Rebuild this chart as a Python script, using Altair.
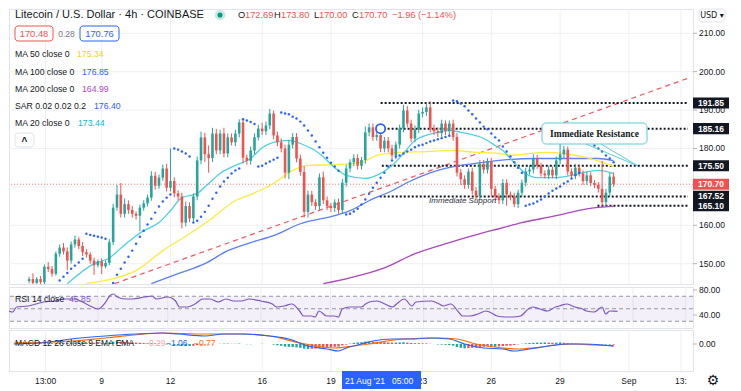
import altair as alt
import pandas as pd

FONT = "Liberation Sans"
INK = "#131722"
UP, DOWN = "#26a69a", "#ef5350"
W, H_MAIN, H_RSI, H_MACD = 684, 275, 41, 41
X_DOMAIN = [5.174, 34.58]
P_DOMAIN = [144.71, 216.33]
RSI_DOMAIN = [19.2, 84.8]
MACD_DOMAIN = [-13.5, 7.0]

# ---------------- data ----------------
FIRST_DAY = 5 + 20 / 24      # first visible 4h candle (Aug 5, 20:00)
STEP = 1 / 6                 # 4 hours
OPEN0 = 145.5

closes = [
    146.0, 145.0, 146.0, 145.2, 149.2, 148.6, 147.4, 152.6, 154.2, 153.2,
    150.8, 155.0, 156.3, 154.6, 153.0, 152.4, 150.8, 149.6, 150.6, 149.3,
    150.2, 155.6, 164.6, 168.0, 163.0, 165.5, 164.0, 163.0, 162.5, 164.6,
    165.7, 167.2, 172.9, 170.3, 172.4, 174.8, 169.8, 171.5, 168.3, 167.5,
    160.7, 165.0, 161.8, 167.5, 176.9, 182.9, 178.5, 177.5, 183.9, 179.5,
    183.9, 178.7, 182.9, 181.6, 183.9, 186.8, 177.6, 176.8, 179.5, 182.9,
    185.2, 184.5, 186.0, 189.1, 183.4, 181.6, 180.0, 173.7, 181.0, 183.0,
    177.4, 173.9, 163.5, 168.0, 166.0, 165.0, 172.5, 166.5, 165.0, 164.5,
    166.0, 164.0, 171.1, 174.8, 176.4, 177.5, 175.5, 177.0, 184.2, 185.5,
    183.0, 183.5, 180.0, 182.0, 180.0, 178.2, 181.0, 185.2, 189.9, 186.5,
    182.6, 185.0, 189.1, 189.5, 190.7, 185.2, 184.5, 184.0, 186.5, 184.5,
    186.5, 183.0, 173.7, 172.0, 170.5, 174.0, 169.0, 167.5, 176.0, 174.5,
    176.5, 169.5, 167.5, 166.5, 171.0, 168.0, 167.5, 165.5, 168.5, 171.1,
    174.0, 174.5, 177.5, 175.5, 173.5, 173.0, 174.5, 173.0, 176.9, 178.5,
    179.7, 174.0, 173.0, 175.0, 173.5, 171.5, 173.0, 171.0, 170.5, 169.5,
    166.0, 168.5, 172.69, 170.70]

wick_up = [
    0.6, 1.5, 0.5, 0.8, 0.6, 1.2, 0.8, 0.6, 0.8, 1.2,
    1.0, 0.8, 1.0, 0.6, 1.0, 0.8, 0.6, 0.8, 0.5, 0.8,
    0.6, 0.8, 1.0, 2.5, 3.0, 1.5, 1.0, 1.0, 0.6, 0.8,
    0.8, 0.8, 1.2, 1.0, 0.8, 1.0, 1.2, 8.5, 1.0, 0.8,
    1.0, 1.2, 1.0, 0.8, 1.0, 1.5, 1.2, 2.3, 1.5, 1.2,
    1.0, 1.5, 1.0, 1.0, 1.0, 0.8, 1.0, 0.8, 1.0, 1.0,
    1.0, 1.5, 1.0, 1.2, 0.8, 1.0, 1.0, 1.0, 1.2, 1.0,
    1.0, 1.0, 1.5, 1.0, 1.0, 0.8, 1.0, 1.5, 1.0, 0.8,
    0.8, 1.0, 1.0, 1.0, 0.8, 1.0, 1.0, 0.8, 1.5, 1.0,
    1.0, 1.0, 1.0, 1.0, 1.0, 1.0, 0.8, 1.0, 1.5, 1.2,
    1.0, 1.0, 1.0, 1.2, 1.3, 1.6, 1.0, 1.0, 1.0, 0.8,
    0.8, 1.0, 1.0, 1.0, 1.0, 0.8, 1.0, 1.0, 1.0, 1.0,
    1.0, 1.0, 0.8, 0.8, 1.0, 1.0, 0.8, 1.0, 0.8, 0.8,
    1.0, 1.2, 1.0, 0.8, 0.8, 0.8, 1.0, 0.8, 1.0, 3.3,
    1.0, 0.8, 0.8, 1.0, 0.8, 0.8, 1.0, 0.8, 0.8, 0.8,
    7.3, 1.0, 1.0, 1.11]

wick_dn = [
    0.6, 0.6, 0.5, 0.8, 0.5, 0.8, 0.8, 0.5, 0.8, 0.8,
    2.5, 0.8, 0.8, 0.8, 1.0, 0.8, 0.8, 2.5, 0.6, 2.0,
    0.5, 0.6, 0.8, 0.8, 1.0, 1.0, 1.0, 1.0, 1.0, 4.0,
    0.8, 0.8, 0.8, 1.0, 0.8, 0.8, 1.0, 1.0, 1.0, 1.0,
    1.5, 1.0, 1.0, 1.0, 1.0, 1.0, 2.0, 3.8, 1.0, 1.0,
    1.0, 1.0, 1.0, 0.8, 1.0, 1.0, 1.5, 1.0, 1.0, 1.0,
    0.8, 1.0, 1.0, 1.0, 1.0, 1.0, 1.0, 1.5, 1.7, 1.0,
    1.0, 1.0, 1.5, 1.5, 1.0, 1.0, 1.0, 1.0, 1.0, 1.0,
    1.0, 1.0, 1.0, 1.0, 1.0, 1.0, 1.0, 1.0, 1.0, 1.0,
    1.0, 1.0, 1.0, 1.0, 1.0, 1.0, 1.0, 1.0, 1.0, 1.0,
    1.0, 1.0, 1.0, 1.0, 1.0, 1.0, 1.0, 1.0, 1.0, 1.0,
    1.0, 1.0, 1.0, 1.5, 1.0, 1.0, 1.0, 1.0, 1.0, 1.0,
    1.0, 2.0, 1.0, 1.0, 1.0, 2.9, 1.0, 0.8, 1.0, 1.0,
    1.0, 0.8, 1.0, 0.8, 0.8, 0.8, 1.0, 0.8, 1.0, 1.0,
    1.0, 1.0, 0.8, 1.0, 0.8, 1.0, 1.0, 0.8, 0.8, 1.0,
    0.9, 1.0, 1.0, 0.7]

ma20_idx = [10, 17, 21, 24, 27, 30, 34, 37, 40, 44, 47, 50, 54, 58, 61, 64, 68, 71, 76, 80,
            83, 88, 91, 95, 98, 101, 107, 110, 113, 119, 122, 124, 127, 130, 133, 138, 142, 145, 149, 153]
ma20_val = [144.8, 150.0, 151.5, 154.0, 156.5, 158.6, 160.7, 163.8, 167.2, 168.3,
            170.9, 173.5, 175.6, 177.4, 180.2, 181.6, 182.1, 181.3, 178.7, 175.0,
            173.0, 172.2, 173.0, 175.6, 178.7, 182.1, 184.2, 184.7, 184.2, 182.6,
            180.8, 179.5, 176.3, 173.5, 172.4, 172.4, 173.0, 173.7, 174.3, 173.44]
ma50_idx = [15, 22, 28, 35, 42, 47, 54, 58, 64, 69, 73, 80, 87, 91, 97, 104, 110, 117, 123, 126,
            131, 135, 140, 146, 153]
ma50_val = [144.8, 146.1, 148.2, 153.4, 157.8, 161.2, 166.4, 168.0, 170.9, 174.3,
            175.6, 175.8, 176.4, 178.2, 179.0, 179.2, 179.5, 179.0, 178.7, 178.2,
            178.7, 179.0, 178.7, 177.6, 175.34]
ma100_idx = [32, 39, 46, 52, 58, 64, 71, 80, 84, 89, 95, 100, 107, 113, 119, 123, 133, 142, 149, 153]
ma100_val = [144.8, 147.4, 150.0, 153.4, 155.5, 157.3, 160.4, 162.5, 163.8, 166.4,
             169.0, 171.6, 174.3, 175.6, 176.4, 176.9, 177.4, 177.4, 177.4, 176.85]
ma200_idx = [77, 84, 93, 101, 110, 119, 123, 129, 138, 146, 153]
ma200_val = [144.8, 146.3, 148.9, 152.6, 155.5, 158.1, 159.1, 160.7, 162.5, 164.3, 164.99]

sar_segments = [
    (8, [145.6, 146.6, 147.6, 148.7, 149.5, 150.3, 151.3]),
    (15, [157.8, 157.5, 157.3, 157.0, 156.8, 156.5]),
    (22, [145.0, 147.1, 148.7, 150.3, 151.8, 153.4, 155.2, 157.0, 158.6, 160.2, 161.7, 163.3,
          164.9, 166.2, 167.2, 168.0]),
    (38, [180.0, 179.7, 179.2, 178.7, 177.9]),
    (43, [160.7, 161.2, 162.2, 163.5, 165.1, 166.9, 168.5, 170.1, 171.4, 172.4, 173.5, 174.3, 174.8]),
    (56, [187.6, 187.3, 186.9, 186.4]),
    (60, [175.3, 175.5, 176.1, 176.6, 177.1, 177.6]),
    (66, [189.4, 189.1, 188.9, 188.3, 187.8, 187.0, 186.0, 184.7, 183.4, 181.8, 180.3, 178.9,
          177.6, 176.3, 175.3, 174.2]),
    (83, [162.8, 163.0, 163.6, 164.3, 165.4, 166.7, 168.2, 169.8, 171.1, 172.4, 173.7, 175.3,
          176.9, 177.9, 178.2, 178.7, 179.2, 179.7, 180.3, 180.8, 181.0, 181.4, 181.8, 182.1,
          182.4, 182.7, 183.0, 183.3]),
    (111, [192.5, 192.3, 191.7, 191.0, 189.9, 188.9, 187.8, 186.8, 185.7, 185.0, 183.9, 182.9,
           182.1, 180.5, 179.2, 177.9, 176.4, 175.0, 173.7]),
    (130, [165.1, 165.4, 165.7, 166.2, 166.7, 167.5, 168.3, 169.0, 169.6, 170.1, 170.9, 171.4,
           172.2, 173.0, 173.7]),
    (145, [182.6, 182.1, 181.5, 180.8, 180.0, 179.2, 178.2, 177.4, 176.4]),
]

trend_day = [9.56, 34.58]
trend_price = [144.8, 198.3]

level_price = [191.85, 185.16, 175.50, 167.52, 165.10]
level_start = [21.17, 21.30, 21.22, 21.13, 30.63]

tag_price_black = [191.85, 185.16, 175.50, 167.52, 165.10]
tag_price_red = [170.70]
marker_day, marker_price = [21.167], [185.16]

price_grid = [150, 160, 170, 180, 190, 200, 210]
price_labels = [150, 160, 180, 190, 200, 210]   # 170.00 sits under the red 170.70 tag
rsi_ticks = [40, 80]
macd_ticks = [0]

rsi_idx = [-4, -3, -2, 1, 3, 5, 8, 10, 13, 15, 17, 19, 21, 22, 23, 24, 26, 28, 31, 33,
           34, 37, 39, 40, 42, 44, 46, 48, 50, 52, 54, 56, 58, 61, 64, 65, 67, 69, 71, 72,
           74, 75, 76, 78, 80, 81, 82, 84, 87, 88, 89, 91, 93, 95, 96, 98, 100, 101, 105, 107,
           108, 110, 112, 113, 115, 117, 119, 120, 122, 124, 126, 128, 130, 131, 133, 135, 137, 138, 140, 142,
           144, 145, 147, 149, 150, 151, 153]
rsi_val = [46.4, 44.8, 52.8, 54.4, 57.6, 60.8, 62.4, 65.6, 65.6, 60.8,
           54.4, 49.6, 60.8, 70.4, 73.6, 68.8, 65.6, 65.6, 68.8, 70.4,
           65.6, 68.8, 62.4, 52.8, 52.8, 57.6, 65.6, 65.6, 60.8, 65.6,
           62.4, 62.4, 65.6, 62.4, 57.6, 52.8, 54.4, 57.6, 46.4, 38.4,
           38.4, 36.8, 46.4, 38.4, 38.4, 36.8, 49.6, 52.8, 52.8, 57.6,
           60.8, 62.4, 57.6, 52.8, 57.6, 65.6, 54.4, 60.8, 62.4, 57.6,
           54.4, 57.6, 44.8, 38.4, 38.4, 41.6, 46.4, 44.8, 38.4, 36.8,
           36.8, 38.4, 49.6, 52.8, 49.6, 46.4, 52.8, 54.4, 57.6, 52.8,
           49.6, 46.4, 44.8, 52.8, 41.6, 46.4, 45.85]
rsi_levels = [30, 50, 70]

macd_idx = [-4, 3, 11, 20, 28, 35, 39, 46, 51, 56, 63, 68, 73, 78, 81, 83, 87, 90, 95, 100,
            105, 110, 114, 119, 124, 127, 131, 136, 141, 145, 150, 153]
macd_val = [0, 0.5, 2.5, 4, 5, 5.5, 5, 4, 5, 5, 4, 2.5, -1, -2.5, -3.5, -2, 0, 1.5, 2.5, 2.5,
            3, 2.5, 0, -2, -2.5, -3.5, -2.5, -1, 0, 0, -0.5, -1.06]
signal_idx = [-4, 11, 20, 35, 46, 56, 63, 71, 80, 85, 89, 98, 107, 112, 117, 124, 128, 132, 138, 143,
              148, 153]
signal_val = [0.5, 1.5, 3, 5.5, 5, 5, 4, 0.5, -2, -1, 0, 2.5, 3, 2.5, 0, -2, -2.5, -2, -0.5, 0,
              -0.5, -0.77]
hist = [
    0.2, 0.2, 0.3, 0.3, 0.3, 0.4, 0.4, 0.5, 0.5, 0.6,
    0.6, 0.7, 0.7, 0.8, 0.8, 0.8, 0.7, 0.6, 0.5, 0.4,
    0.5, 0.8, 1.2, 1.4, 1.2, 1.0, 0.9, 0.8, 0.7, 0.6,
    0.5, 0.4, 0.4, 0.3, 0.2, 0.0, -0.2, -0.3, -0.5, -0.7,
    -0.9, -1.0, -1.0, -0.9, -0.6, -0.4, -0.3, -0.2, -0.1, 0.0,
    0.1, 0.2, 0.2, 0.1, 0.1, 0.2, 0.0, -0.1, -0.1, 0.0,
    0.0, 0.1, 0.0, 0.0, -0.3, -0.6, -0.9, -1.3, -1.4, -1.5,
    -1.7, -1.9, -2.3, -2.5, -2.4, -2.3, -2.0, -1.9, -1.7, -1.5,
    -1.4, -1.3, -0.7, -0.3, 0.2, 0.6, 0.8, 0.9, 1.2, 1.3,
    1.2, 1.1, 1.0, 0.9, 0.8, 0.7, 0.7, 0.8, 0.9, 0.7,
    0.5, 0.4, 0.4, 0.3, 0.3, 0.1, 0.0, -0.2, -0.3, -0.4,
    -0.6, -0.8, -1.5, -1.9, -2.2, -2.0, -1.9, -1.8, -1.5, -1.4,
    -1.2, -1.3, -1.4, -1.2, -1.0, -0.9, -0.8, -0.5, -0.2, 0.1,
    0.3, 0.5, 0.6, 0.7, 0.7, 0.8, 0.7, 0.6, 0.7, 0.8,
    0.6, 0.4, 0.2, 0.1, 0.0, -0.1, -0.1, -0.2, -0.2, -0.2,
    -0.3, -0.3, -0.3, -0.29]

tick_days = [6.55, 9, 12, 16, 19, 23, 26, 29, 32, 34.27]
tick_labels = ["13:00", "9", "12", "16", "19", "23", "26", "29", "Sep", "13:"]

# ---------------- tables ----------------
def to_day(i):
    return FIRST_DAY + i * STEP

opens = [OPEN0] + closes[:-1]
candles = pd.DataFrame([
    dict(day=to_day(i), open=o, close=c, high=max(o, c) + wu, low=min(o, c) - wd,
         dir="up" if c >= o else "down")
    for i, (o, c, wu, wd) in enumerate(zip(opens, closes, wick_up, wick_dn))
])

def series(idx, vals):
    return pd.DataFrame({"day": [to_day(i) for i in idx], "v": vals})

sar_rows = []
for start, vals in sar_segments:
    for k, v in enumerate(vals):
        sar_rows.append({"day": to_day(start + k), "v": v})
sar = pd.DataFrame(sar_rows)

hist_rows = []
for i, h in enumerate(hist):
    prev = hist[i - 1] if i else 0
    if h >= 0:
        cat = "pu" if h >= prev else "pd"
    else:
        cat = "nd" if h <= prev else "nu"
    hist_rows.append({"day": to_day(i), "h": h, "zero": 0, "cat": cat})
hist_df = pd.DataFrame(hist_rows)

ONE = pd.DataFrame({"k": [0]})

# ---------------- helpers ----------------
xs = alt.Scale(domain=X_DOMAIN, nice=False, zero=False)
ys = alt.Scale(domain=P_DOMAIN, nice=False, zero=False)
rs = alt.Scale(domain=RSI_DOMAIN, nice=False, zero=False)
ms = alt.Scale(domain=MACD_DOMAIN, nice=False, zero=False)

def X(f="day"):
    return alt.X(f"{f}:Q", scale=xs, axis=None)

def Y(f, s):
    return alt.Y(f"{f}:Q", scale=s, axis=None)

def txt(t, x, y, color=INK, size=8.7, weight="normal", align="left", font=FONT, style="normal"):
    return alt.Chart(ONE).mark_text(text=t, align=align, baseline="middle", fontSize=size,
                                    fontWeight=weight, font=font, fontStyle=style, color=color
                                    ).encode(x=alt.value(x), y=alt.value(y))

def box(x1, y1, x2, y2, fill="white", stroke=None, radius=0, sw=1):
    kw = dict(fill=fill, cornerRadius=radius)
    if stroke:
        kw.update(stroke=stroke, strokeWidth=sw)
    return alt.Chart(ONE).mark_rect(**kw).encode(
        x=alt.value(x1), x2=alt.value(x2), y=alt.value(y1), y2=alt.value(y2))

def seg(x1, y1, x2, y2, color, sw=1):
    return alt.Chart(ONE).mark_rule(color=color, strokeWidth=sw).encode(
        x=alt.value(x1), x2=alt.value(x2), y=alt.value(y1), y2=alt.value(y2))

def vgrid():
    return alt.Chart(pd.DataFrame({"day": tick_days})).mark_rule(
        color="#eef0f4", strokeWidth=1, clip=True).encode(x=X())

def line(df, color, s, width=1.3, dash=None):
    kw = dict(color=color, strokeWidth=width, clip=True, interpolate="monotone")
    if dash:
        kw["strokeDash"] = dash
    return alt.Chart(df).mark_line(**kw).encode(x=X(), y=Y("v", s))

def right_axis(labels, s, grid_values=None):
    out = []
    if grid_values:
        out.append(alt.Chart(pd.DataFrame({"v": grid_values})).mark_rule(
            color="#eef0f4", strokeWidth=1).encode(y=Y("v", s)))
    df = pd.DataFrame({"v": labels})
    out.append(alt.Chart(df).mark_rule(color="#b2b5be", strokeWidth=1).encode(
        y=Y("v", s), x=alt.value(W), x2=alt.value(W + 4)))
    out.append(alt.Chart(df).mark_text(align="left", baseline="middle", fontSize=8.5, font=FONT,
                                       color=INK).encode(
        y=Y("v", s), x=alt.value(W + 6), text=alt.Text("v:Q", format=".2f")))
    return out

cscale = alt.Scale(domain=["up", "down"], range=[UP, DOWN])
TAG = "M-1,-0.31L1,-0.31L1,0.31L-1,0.31Z"

# ---------------- main panel ----------------
main_layers = [vgrid()] + right_axis(price_labels, ys, grid_values=price_grid) + [
    alt.Chart(pd.DataFrame({"p": [170.70]})).mark_rule(
        color=DOWN, strokeDash=[1, 2], strokeWidth=1, opacity=0.8).encode(y=Y("p", ys)),
    alt.Chart(pd.DataFrame({"day": trend_day, "v": trend_price})).mark_line(
        color="#f7525f", strokeDash=[5, 4], strokeWidth=1.2, clip=True).encode(x=X(), y=Y("v", ys)),
    alt.Chart(pd.DataFrame({"start": level_start, "end": [X_DOMAIN[1]] * len(level_start),
                            "p": level_price})).mark_rule(
        color=INK, strokeDash=[2, 2], strokeWidth=2).encode(
        x=X("start"), x2="end", y=Y("p", ys)),
    line(series(ma200_idx, ma200_val), "#ab47bc", ys),
    line(series(ma100_idx, ma100_val), "#5b7ff5", ys),
    line(series(ma50_idx, ma50_val), "#ffeb3b", ys),
    line(series(ma20_idx, ma20_val), "#4dd0e1", ys),
    alt.Chart(candles).mark_rule(strokeWidth=1, clip=True).encode(
        x=X(), y=Y("low", ys), y2="high", color=alt.Color("dir:N", scale=cscale, legend=None)),
    alt.Chart(candles).mark_bar(size=2.6, clip=True).encode(
        x=X(), y=Y("open", ys), y2="close", color=alt.Color("dir:N", scale=cscale, legend=None)),
    alt.Chart(sar).mark_circle(size=6, color="#2962ff", opacity=1, clip=True).encode(
        x=X(), y=Y("v", ys)),
    # callout
    seg(577, 135, 629, 157, "#5ccbd6"),
    seg(592, 135, 629, 157, "#5ccbd6"),
    box(533, 114, 638, 135, fill="white", stroke="#5ccbd6", radius=4),
    txt("Immediate Resistance", 585.5, 124.5, size=9.5, weight="bold", align="center",
        font="Liberation Serif"),
    txt("Immediate Support", 420, 192, color="#2a2e39", size=8, style="italic"),
    alt.Chart(pd.DataFrame({"day": marker_day, "v": marker_price})).mark_point(
        shape="circle", size=85, fill="white", stroke="#2962ff", strokeWidth=1.8, opacity=1).encode(
        x=X(), y=Y("v", ys)),
    # header
    txt("Litecoin / U.S. Dollar · 4h · COINBASE", 6, 6, size=11),
    alt.Chart(ONE).mark_circle(size=120, color="#cdebe6", opacity=1).encode(
        x=alt.value(211), y=alt.value(6)),
    alt.Chart(ONE).mark_circle(size=26, color="#089981", opacity=1).encode(
        x=alt.value(211), y=alt.value(6)),
    txt("O", 229, 6, size=9.3), txt("172.69", 236, 6, color=DOWN, size=9.3),
    txt("H", 265, 6, size=9.3), txt("173.80", 272, 6, color=DOWN, size=9.3),
    txt("L", 305, 6, size=9.3), txt("170.00", 310, 6, color=DOWN, size=9.3),
    txt("C", 343, 6, size=9.3), txt("170.70", 350, 6, color=DOWN, size=9.3),
    txt("−1.96", 383, 6, color=DOWN, size=9.3), txt("(−1.14%)", 409, 6, color=DOWN, size=9.3),
    box(6, 17, 44, 32, fill="white", stroke=DOWN, radius=3),
    txt("170.48", 25, 24.5, color=DOWN, size=9.3, align="center"),
    txt("0.28", 57.5, 24.5, color="#787b86", size=8.5, align="center"),
    box(71, 17, 110, 32, fill="white", stroke="#2962ff", radius=3),
    txt("170.76", 90.5, 24.5, color="#2962ff", size=9.3, align="center"),
    txt("MA 50 close 0", 6, 45), txt("175.34", 68, 45, color="#f2d21b"),
    txt("MA 100 close 0", 6, 63), txt("176.85", 73, 63, color="#2962ff"),
    txt("MA 200 close 0", 6, 80), txt("164.99", 73, 80, color="#ab47bc"),
    txt("SAR 0.02 0.02 0.2", 6, 97), txt("176.40", 85, 97, color="#2962ff"),
    txt("MA 20 close 0", 6, 114), txt("173.44", 69, 114, color="#00bcd4"),
    box(6, 124, 25, 138, fill="white", stroke="#e0e3eb", radius=3),
    txt("^", 15.5, 132.5, size=10, weight="bold", align="center"),
    # price tags on the axis
    alt.Chart(pd.DataFrame({"p": tag_price_black})).mark_point(
        shape=TAG, size=1296, filled=True, color=INK, opacity=1).encode(
        x=alt.value(702), y=Y("p", ys)),
    alt.Chart(pd.DataFrame({"p": tag_price_red})).mark_point(
        shape=TAG, size=1296, filled=True, color="#f0514f", opacity=1).encode(
        x=alt.value(702), y=Y("p", ys)),
    alt.Chart(pd.DataFrame({"p": tag_price_black + tag_price_red})).mark_text(
        color="white", fontSize=8.5, fontWeight="bold", font=FONT, align="center",
        baseline="middle").encode(
        x=alt.value(702), y=Y("p", ys), text=alt.Text("p:Q", format=".2f")),
    box(690, 0, 716, 13, fill="white", stroke="#e0e3eb", radius=3),
    txt("USD ▾", 703, 6.5, size=8, align="center", font="DejaVu Sans"),
]
main = alt.layer(*main_layers).properties(width=W, height=H_MAIN)

# ---------------- RSI panel ----------------
rsi_layers = [
    vgrid(),
    alt.Chart(pd.DataFrame({"lo": [30], "hi": [70]})).mark_rect(
        color="#7e57c2", opacity=0.09).encode(
        y=Y("lo", rs), y2="hi", x=alt.value(0), x2=alt.value(W)),
    alt.Chart(pd.DataFrame({"r": rsi_levels})).mark_rule(
        color="#9598a1", strokeDash=[4, 3], strokeWidth=1).encode(y=Y("r", rs)),
] + right_axis(rsi_ticks, rs) + [
    line(series(rsi_idx, rsi_val), "#7e57c2", rs, width=1.2),
    txt("RSI 14 close", 6, 12), txt("45.85", 60, 12, color="#7e57c2"),
]
rsi = alt.layer(*rsi_layers).properties(width=W, height=H_RSI)

# ---------------- MACD panel ----------------
hscale = alt.Scale(domain=["pu", "pd", "nd", "nu"], range=["#26a69a", "#b2dfdb", "#ff5252", "#ffcdd2"])
macd_layers = [vgrid()] + right_axis(macd_ticks, ms) + [
    alt.Chart(hist_df).mark_bar(size=2.4, clip=True).encode(
        x=X(), y=Y("h", ms), y2="zero",
        color=alt.Color("cat:N", scale=hscale, legend=None)),
    line(series(signal_idx, signal_val), "#ff6d00", ms, width=1.2),
    line(series(macd_idx, macd_val), "#2962ff", ms, width=1.2),
    txt("MACD 12 26 close 9 EMA EMA", 6, 13, size=8.5),
    txt("−0.29", 135, 13, color="#f5a3a3", size=8.5),
    txt("−1.06", 157, 13, color="#2962ff", size=8.5),
    txt("−0.77", 185, 13, color="#ff6d00", size=8.5),
    # time axis labels
    alt.Chart(pd.DataFrame({"day": tick_days, "lab": tick_labels})).mark_text(
        align="center", baseline="middle", fontSize=8.5, font=FONT, color=INK).encode(
        x=X(), y=alt.value(H_MACD + 10), text="lab:N"),
    box(333, 41, 412, 59, fill="#2962ff"),
    txt("21 Aug '21", 336, 50.5, color="white", size=8.5),
    txt("05:00", 383, 50.5, color="white", size=8.5),
    txt("⚙", 704, 51, size=14, align="center", font="DejaVu Sans"),
]
macd = alt.layer(*macd_layers).properties(width=W, height=H_MACD)

chart = alt.vconcat(main, rsi, macd, spacing=0).properties(
    padding={"left": 0, "top": 0, "right": 0, "bottom": 0}, background="white"
).configure_view(stroke="#e0e3eb", strokeWidth=1)

chart.save("out.html", embed_options={"renderer": "svg", "actions": False})
